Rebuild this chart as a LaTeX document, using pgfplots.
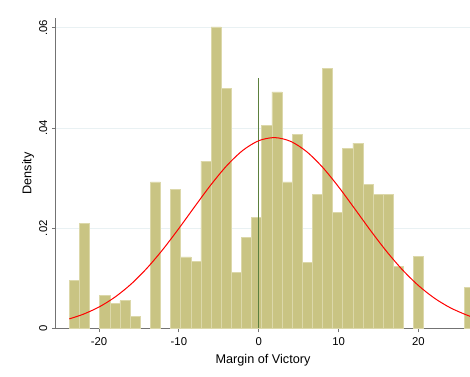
\documentclass[border=0pt]{standalone}
\usepackage{fontspec}
\setmainfont{Liberation Sans}
\usepackage{pgfplots}
\pgfplotsset{compat=1.18}
\definecolor{barfill}{RGB}{201,196,131}
\definecolor{baredge}{RGB}{220,216,170}
\definecolor{axisgray}{RGB}{115,115,115}
\definecolor{gridcol}{RGB}{233,241,243}
\definecolor{vgreen}{RGB}{92,128,62}
\begin{document}
\begin{tikzpicture}
\useasboundingbox (-42pt,-35.8pt) rectangle (310.5pt,246.3pt);
\begin{axis}[
  at={(0,0)}, anchor=south west,
  scale only axis, width=310.5pt, height=232.5pt,
  xmin=-25.39, xmax=26.45, ymin=0, ymax=0.0619,
  axis x line*=bottom, axis y line*=left,
  axis line style={-, draw=axisgray, line width=0.75pt},
  xtick={-20,-10,0,10,20},
  ytick={0,0.02,0.04,0.06}, yticklabels={0,.02,.04,.06},
  scaled y ticks=false, scaled x ticks=false,
  tick align=outside, major tick length=3pt,
  tick style={draw=axisgray, line width=0.75pt},
  ymajorgrids, grid style={draw=gridcol, line width=0.75pt},
  ticklabel style={font=\fontsize{8.5}{10}\selectfont},
  yticklabel style={rotate=90, anchor=south},
  /pgf/number format/assume math mode=true,
  xlabel={Margin of Victory}, ylabel={Density},
  label style={font=\fontsize{9.5}{11}\selectfont},
  ylabel style={yshift=-3pt},
  clip=true,
]
\addplot[ybar, bar width=1.268, bar shift=0pt, fill=barfill, draw=baredge, line width=0.5pt] coordinates {
(-23.086,0.00964) (-21.818,0.02096) (-19.282,0.00659) (-18.014,0.00499)
(-16.746,0.00551) (-15.478,0.00246) (-12.942,0.02926) (-10.406,0.02774)
(-9.138,0.01429) (-7.870,0.01330) (-6.602,0.0334) (-5.334,0.0602)
(-4.066,0.0479) (-2.798,0.01118) (-1.530,0.01822) (-0.262,0.02208)
(1.006,0.0406) (2.274,0.04723) (3.542,0.02926) (4.810,0.03878)
(6.078,0.01323) (7.346,0.02675) (8.614,0.0519) (9.882,0.02315)
(11.150,0.0360) (12.418,0.0370) (13.686,0.0288) (14.954,0.02675)
(16.222,0.02675) (17.490,0.0123) (20.026,0.01437) (26.366,0.00818)
};
\addplot[draw=vgreen, line width=0.75pt] coordinates {(0,0) (0,0.0499)};
\addplot[red, line width=0.75pt, smooth] coordinates {
(-23.72,0.001909) (-22,0.002815) (-20,0.004274) (-18,0.006259) (-16,0.008835)
(-14,0.012026) (-12,0.015783) (-10,0.019972) (-8,0.024364) (-6,0.028661)
(-4,0.032506) (-2,0.035546) (0,0.037478) (2,0.038098) (4,0.037341)
(6,0.035288) (8,0.032153) (10,0.028247) (12,0.023925) (14,0.019538)
(16,0.015385) (18,0.011681) (20,0.008550) (22,0.006034) (24,0.004106)
(26,0.002694) (27,0.002152)
};
\end{axis}
\end{tikzpicture}
\end{document}
